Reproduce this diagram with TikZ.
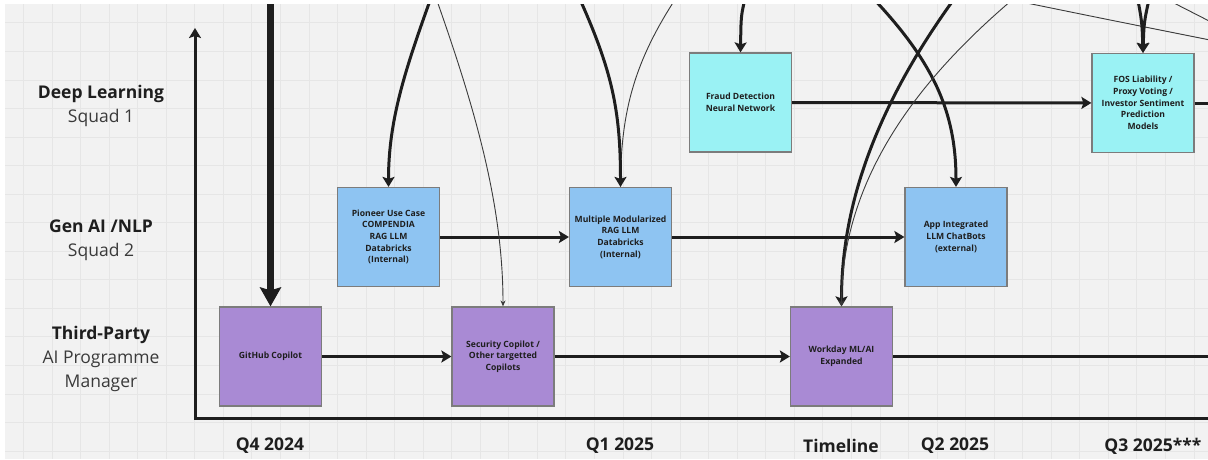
\documentclass[tikz,border=0pt]{standalone}
\usepackage{fontspec}
\setmainfont{Open Sans}
\usetikzlibrary{arrows.meta}

\definecolor{boardbg}{HTML}{F2F2F2}
\definecolor{gridline}{HTML}{E6E6E6}
\definecolor{inkdark}{HTML}{1E1E1E}
\definecolor{inksoft}{HTML}{3A3A3A}
\definecolor{boxedge}{HTML}{7C7C7C}
\definecolor{dlcyan}{HTML}{9AF2F4}
\definecolor{genblue}{HTML}{8EC4F2}
\definecolor{tpviolet}{HTML}{A98AD4}

\begin{document}
\begin{tikzpicture}[x=1pt, y=-1pt, >={Stealth[length=10pt, width=12pt, inset=2pt]},
  lanelabel/.style={align=center, text=inksoft, font=\fontsize{17.5}{24}\selectfont},
  quarter/.style={text=inkdark, font=\fontsize{17.5}{24}\selectfont\bfseries},
  item/.style={rectangle, draw=boxedge, line width=1.2pt, minimum width=102pt, minimum height=99pt,
    align=center, inner sep=2pt, text=inkdark, font=\fontsize{8.6}{11.7}\selectfont\bfseries},
  dlitem/.style={item, fill=dlcyan},
  genitem/.style={item, fill=genblue},
  tpitem/.style={item, fill=tpviolet},
  axisline/.style={line width=3pt, draw=inkdark},
  flow/.style={->, line width=3pt, draw=inkdark},
  feed/.style={->, line width=3pt, draw=inkdark},
  thinfeed/.style={-{Stealth[length=6pt, width=5pt]}, line width=0.9pt, draw=inksoft},
  bigfeed/.style={-{Stealth[length=19pt, width=21pt, inset=3pt]}, line width=6.5pt, draw=inkdark}]

\useasboundingbox (0,0) rectangle (1208,459);
\fill[white] (0,0) rectangle (1208,459);
\clip (5,4) rectangle (1208,459);
\fill[boardbg] (5,4) rectangle (1208,459);
\foreach \k in {0,...,41} {
  \draw[gridline, line width=0.6pt] (23.3+28.55*\k,0) -- (23.3+28.55*\k,459);
}
\foreach \k in {0,...,15} {
  \draw[gridline, line width=0.6pt] (0,22.7+28.55*\k) -- (1208,22.7+28.55*\k);
}

% swimlane titles
\node[lanelabel] (dl) at (101,106) {\textbf{\color{inkdark}Deep Learning}\\Squad 1};
\node[lanelabel] (gen) at (101,240) {\textbf{\color{inkdark}Gen AI /NLP}\\Squad 2};
\node[lanelabel] (tp) at (101,358.5) {\textbf{\color{inkdark}Third-Party}\\AI Programme\\Manager};

% quarters along the bottom
\node[quarter] (q4) at (270,446) {Q4 2024};
\node[quarter] (q1) at (620,446) {Q1 2025};
\node[quarter] (tl) at (841,446) {Timeline};
\node[quarter] (q2) at (955,446) {Q2 2025};
\node[quarter] (q3) at (1153,446) {Q3 2025***};

% axes
\coordinate (origin) at (195,418);
\coordinate (ytop) at (195,28);
\coordinate (xend) at (1215,418);
\draw[axisline, ->] (xend) -- (origin) -- (ytop);

% initiatives
\node[dlitem] (fraud) at (740.5,102.5) {Fraud Detection\\Neural Network};
\node[dlitem] (fos) at (1143,103) {FOS Liability /\\Proxy Voting /\\Investor Sentiment\\Prediction\\Models};
\node[genitem] (pioneer) at (388.5,237) {Pioneer Use Case\\COMPENDIA\\RAG LLM\\Databricks\\(Internal)};
\node[genitem] (multi) at (620.5,237) {Multiple Modularized\\RAG LLM\\Databricks\\(Internal)};
\node[genitem] (app) at (956,237) {App Integrated\\LLM ChatBots\\(external)};
\node[tpitem] (github) at (270.5,356.5) {GitHub Copilot};
\node[tpitem] (security) at (503,356.5) {Security Copilot /\\Other targetted\\Copilots};
\node[tpitem] (workday) at (841.5,356.5) {Workday ML/AI\\Expanded};

% lane flows
\coordinate (fosout) at (1215,103);
\coordinate (workdayout) at (1215,356.5);
\draw[flow] (fraud) -- (fos);
\draw[line width=3pt, draw=inkdark] (fos) -- (fosout);
\draw[flow] (pioneer) -- (multi);
\draw[flow] (multi) -- (app);
\draw[flow] (github) -- (security);
\draw[flow] (security) -- (workday);
\draw[line width=3pt, draw=inkdark] (workday) -- (workdayout);

% feeds coming in from above
\coordinate (inGit) at (270.5,-5);
\coordinate (inPioneer) at (432,-5);
\coordinate (inSecurity) at (435,-5);
\coordinate (inMultiA) at (578,-5);
\coordinate (inMultiB) at (678,-5);
\coordinate (inFraud) at (746,-5);
\coordinate (inApp) at (870,-5);
\coordinate (inWorkA) at (957,-5);
\coordinate (inWorkB) at (1215,41);
\coordinate (inFosA) at (1137,-5);
\coordinate (inFosB) at (1150,-5);
\coordinate (passA) at (1168,0);
\coordinate (passB) at (1215,24);

\draw[bigfeed] (inGit) -- (github);
\draw[feed] (inPioneer) .. controls (405,70) and (388.5,120) .. (pioneer.north);
\draw[thinfeed] (inSecurity) .. controls (472,100) and (503,200) .. (security.north);
\draw[thinfeed] (inMultiB) .. controls (635,60) and (621,110) .. (multi.north);
\draw[feed] (inMultiA) .. controls (612,70) and (620.5,110) .. (multi.north);
\draw[feed] (inFraud) .. controls (741,15) .. (fraud.north);
\draw[feed] (inApp) .. controls (932,60) and (956,110) .. (app.north);
\draw[feed] (inWorkA) .. controls (880,100) and (841.5,200) .. (workday.north);
\draw[thinfeed] (inWorkB) .. controls (1100,18) .. (1012,0) .. controls (930,70) and (841.5,170) .. (workday.north);
\draw[feed] (inFosA) .. controls (1142,22) .. (fos.north);
\draw[feed] (inFosB) .. controls (1144,22) .. (fos.north);
\draw[line width=0.9pt, draw=inksoft] (passA) -- (passB);
\end{tikzpicture}
\end{document}
